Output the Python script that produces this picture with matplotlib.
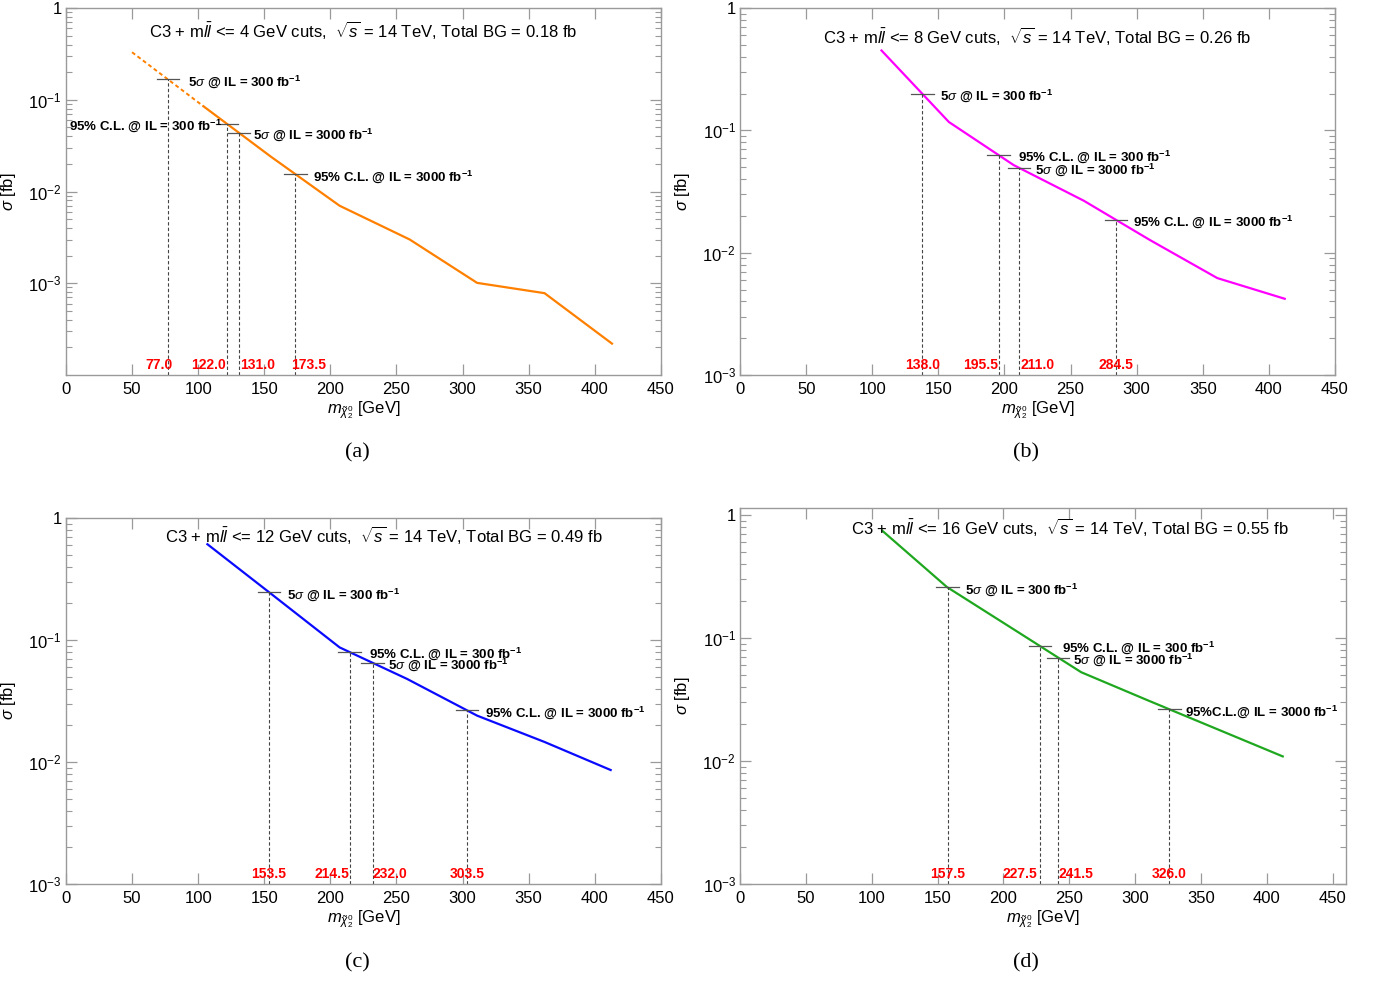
import numpy as np
import matplotlib
matplotlib.use("Agg")
import matplotlib.pyplot as plt
from matplotlib.ticker import FixedLocator, FixedFormatter, LogLocator, NullFormatter
from matplotlib.transforms import blended_transform_factory

plt.rcParams["font.family"] = ["Liberation Sans", "DejaVu Sans"]
plt.rcParams["mathtext.fontset"] = "custom"
plt.rcParams["mathtext.rm"] = "Liberation Sans"
plt.rcParams["mathtext.it"] = "Liberation Sans:italic"
plt.rcParams["mathtext.bf"] = "Liberation Sans:bold"

# --- cross section vs neutralino mass for the four m_ll cuts ---
mass_a = [50, 104, 155, 207, 260, 311, 362, 413]
xsec_a = [0.33, 0.085, 0.024, 0.0070, 0.0030, 0.00101, 0.00078, 0.00022]

mass_b = [107, 158, 207, 260, 310, 361, 412]
xsec_b = [0.45, 0.117, 0.052, 0.0266, 0.0127, 0.0062, 0.0042]

mass_c = [107, 155, 207, 258, 311, 362, 412]
xsec_c = [0.61, 0.24, 0.087, 0.048, 0.024, 0.0146, 0.0086]

mass_d = [108, 157, 207, 259, 310, 362, 412]
xsec_d = [0.745, 0.26, 0.119, 0.0527, 0.031, 0.0182, 0.0109]

# reach limits: 5sigma@300, 95%CL@300, 5sigma@3000, 95%CL@3000
reach_a = [77.0, 122.0, 131.0, 173.5]
reach_b = [138.0, 195.5, 211.0, 284.5]
reach_c = [153.5, 214.5, 232.0, 303.5]
reach_d = [157.5, 227.5, 241.5, 326.0]

mll_cut = [4, 8, 12, 16]
total_bg = [0.18, 0.26, 0.49, 0.55]

fb = r"$^{\mathbf{-1}}$"
limit_labels = [
    r"5$\sigma$ @ IL = 300 fb" + fb,
    r"95% C.L. @ IL = 300 fb" + fb,
    r"5$\sigma$ @ IL = 3000 fb" + fb,
    r"95% C.L. @ IL = 3000 fb" + fb,
]

panels = [
    dict(mass=mass_a, xsec=xsec_a, reach=reach_a, color="#ff8000",
         rect=[0.0480, 0.6185, 0.4330, 0.3733], ylim=(1e-4, 1), xlim=(0, 450),
         title_xy=(0.50, 0.940), cap=(357, 453), tag="(a)",
         txt_dx=[20, -5, 14, 18], txt_ha=["left", "right", "left", "left"],
         num_ha=["right", "right", "left", "left"], num_dx=[5, -1, 1, -4],
         extrap=True),
    dict(mass=mass_b, xsec=xsec_b, reach=reach_b, color="#ff00ff",
         rect=[0.5386, 0.6185, 0.4330, 0.3733], ylim=(1e-3, 1), xlim=(0, 450),
         title_xy=(0.50, 0.924), cap=(1026, 453), tag="(b)",
         txt_dx=[18, 19, 16, 17], txt_ha=["left"] * 4,
         num_ha=["center", "right", "left", "center"], num_dx=[0, 0, 2, 0],
         extrap=False),
    dict(mass=mass_c, xsec=xsec_c, reach=reach_c, color="#0a0aff",
         rect=[0.0480, 0.1007, 0.4330, 0.3723], ylim=(1e-3, 1), xlim=(0, 450),
         title_xy=(0.534, 0.954), cap=(357, 963), tag="(c)",
         txt_dx=[18, 19, 15, 18], txt_ha=["left"] * 4,
         num_ha=["center", "right", "left", "center"], num_dx=[0, 0, 0, 0],
         extrap=False),
    dict(mass=mass_d, xsec=xsec_d, reach=reach_d, color="#1fa81f",
         rect=[0.5386, 0.1007, 0.4410, 0.3825], ylim=(1e-3, 1.14), xlim=(0, 460),
         title_xy=(0.545, 0.949), cap=(1026, 963), tag="(d)",
         txt_dx=[17, 22, 15, 16], txt_ha=["left"] * 4,
         num_ha=["center", "right", "left", "center"], num_dx=[0, -2, 0, 0],
         extrap=False),
]

fig = plt.figure(figsize=(13.74, 9.83), dpi=100)
frame = "#9a9a9a"

for k, p in enumerate(panels):
    ax = fig.add_axes(p["rect"])
    m = np.array(p["mass"], dtype=float)
    s = np.array(p["xsec"], dtype=float)

    if p["extrap"]:
        # first segment is an extrapolation below the simulated mass points
        ax.plot(m[:2], s[:2], color=p["color"], lw=1.4, ls=(0, (2, 1.5)))
        ax.plot(m[1:], s[1:], color=p["color"], lw=1.6)
    else:
        ax.plot(m, s, color=p["color"], lw=1.6)

    ax.set_yscale("log")
    ax.set_xlim(*p["xlim"])
    ax.set_ylim(*p["ylim"])

    # limit markers sit on the curve (log-linear interpolation)
    tr = blended_transform_factory(ax.transData, ax.transAxes)
    for i, xr in enumerate(p["reach"]):
        yr = 10 ** np.interp(xr, m, np.log10(s))
        ax.plot([xr - 8.5, xr + 8.5], [yr, yr], color="#555555", lw=0.9)
        ax.vlines(xr, p["ylim"][0], yr, colors="#444444", lw=0.8,
                  linestyles=(0, (3, 2)))
        lab = limit_labels[i]
        if k == 3 and i == 3:
            lab = r"95%C.L.@ IL = 3000 fb" + fb
        ax.annotate(lab, xy=(xr, yr), xytext=(p["txt_dx"][i], 0),
                    textcoords="offset pixels", ha=p["txt_ha"][i],
                    va="center_baseline", fontsize=9.5, fontweight="bold")
        ax.annotate(f"{xr:.1f}", xy=(xr, 0), xycoords=tr,
                    xytext=(p["num_dx"][i], 3), textcoords="offset pixels",
                    ha=p["num_ha"][i], va="bottom", color="#ff0000",
                    fontsize=10, fontweight="bold")

    ax.text(p["title_xy"][0], p["title_xy"][1],
            r"C3 + m$l\bar{l}$ <= " + f"{mll_cut[k]} GeV cuts,  "
            + r"$\sqrt{s}$ = 14 TeV, Total BG = " + f"{total_bg[k]:.2f} fb",
            transform=ax.transAxes, ha="center", va="center", fontsize=12)

    # axis styling: ticks inside on all four sides
    ax.set_xticks(np.arange(0, 451, 50))
    ax.yaxis.set_major_locator(FixedLocator([1e-3, 1e-2, 1e-1, 1]))
    ax.yaxis.set_major_formatter(FixedFormatter(
        [r"$10^{-3}$", r"$10^{-2}$", r"$10^{-1}$", "1"]))
    ax.yaxis.set_minor_locator(LogLocator(base=10, subs=np.arange(2, 10)))
    ax.yaxis.set_minor_formatter(NullFormatter())
    ax.tick_params(which="both", direction="in", top=True, right=True,
                   colors=frame, labelcolor="black", labelsize=12)
    ax.tick_params(which="major", length=8, width=0.9)
    ax.tick_params(which="minor", length=4, width=0.8)
    ax.tick_params(axis="x", pad=5)
    ax.tick_params(axis="y", pad=3)
    for sp in ax.spines.values():
        sp.set_color(frame)
        sp.set_linewidth(1.0)

    ax.set_ylabel(r"$\sigma$ [fb]", fontsize=12)
    ax.yaxis.set_label_coords(-0.08, 0.5)
    ax.set_xlabel(r"$m_{\tilde{\chi}^{0}_{2}}$ [GeV]", fontsize=12)
    ax.xaxis.set_label_coords(0.5, -0.065)

    fig.text(p["cap"][0] / 1374, 1 - p["cap"][1] / 983, p["tag"],
             ha="center", va="center", fontsize=16,
             family=["Liberation Serif", "DejaVu Serif"])

fig.savefig("out.png", dpi=100)
